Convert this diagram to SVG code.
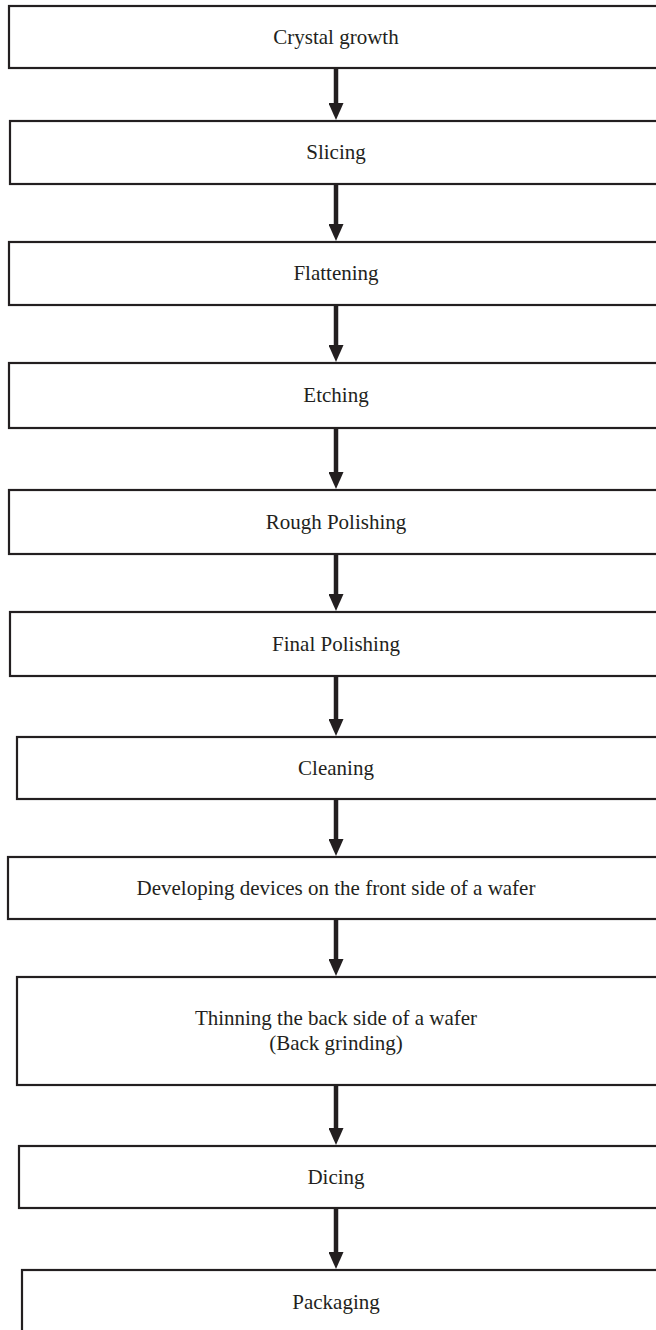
<svg xmlns="http://www.w3.org/2000/svg" width="656" height="1330" viewBox="0 0 656 1330">
<style>
.box{fill:#fff;stroke:#231f20;stroke-width:2.2}
.lbl{font-family:"Liberation Serif","Times New Roman",serif;font-size:21px;fill:#231f20;text-anchor:middle}
.arr{stroke:#231f20;stroke-width:4.5;fill:none}
</style>
<defs>
<marker id="ah" markerUnits="userSpaceOnUse" viewBox="0 0 17 15" refX="1" refY="7.5" markerWidth="17" markerHeight="15" orient="auto">
<path d="M0,0 L17,7.5 L0,15 z" fill="#231f20"/>
</marker>
</defs>
<rect width="656" height="1330" fill="#fff"/>
<g id="connectors">
<line class="arr" x1="336" y1="69" x2="336" y2="104" marker-end="url(#ah)"/>
<line class="arr" x1="336" y1="185" x2="336" y2="225" marker-end="url(#ah)"/>
<line class="arr" x1="336" y1="306" x2="336" y2="346" marker-end="url(#ah)"/>
<line class="arr" x1="336" y1="429" x2="336" y2="473" marker-end="url(#ah)"/>
<line class="arr" x1="336" y1="555" x2="336" y2="595" marker-end="url(#ah)"/>
<line class="arr" x1="336" y1="677" x2="336" y2="720" marker-end="url(#ah)"/>
<line class="arr" x1="336" y1="800" x2="336" y2="840" marker-end="url(#ah)"/>
<line class="arr" x1="336" y1="920" x2="336" y2="960" marker-end="url(#ah)"/>
<line class="arr" x1="336" y1="1086" x2="336" y2="1129" marker-end="url(#ah)"/>
<line class="arr" x1="336" y1="1209" x2="336" y2="1253" marker-end="url(#ah)"/>
</g>
<g id="n1"><rect class="box" x="9" y="6" width="680" height="62"/><text class="lbl" x="336" y="44">Crystal growth</text></g>
<g id="n2"><rect class="box" x="10" y="121" width="680" height="63"/><text class="lbl" x="336" y="159">Slicing</text></g>
<g id="n3"><rect class="box" x="9" y="242" width="680" height="63"/><text class="lbl" x="336" y="280">Flattening</text></g>
<g id="n4"><rect class="box" x="9" y="363" width="680" height="65"/><text class="lbl" x="336" y="402">Etching</text></g>
<g id="n5"><rect class="box" x="9" y="490" width="680" height="64"/><text class="lbl" x="336" y="529">Rough Polishing</text></g>
<g id="n6"><rect class="box" x="10" y="612" width="680" height="64"/><text class="lbl" x="336" y="651">Final Polishing</text></g>
<g id="n7"><rect class="box" x="17" y="737" width="680" height="62"/><text class="lbl" x="336" y="775">Cleaning</text></g>
<g id="n8"><rect class="box" x="8" y="857" width="680" height="62"/><text class="lbl" x="336" y="895">Developing devices on the front side of a wafer</text></g>
<g id="n9"><rect class="box" x="17" y="977" width="680" height="108"/><text class="lbl" x="336" y="1025">Thinning the back side of a wafer</text><text class="lbl" x="336" y="1050">(Back grinding)</text></g>
<g id="n10"><rect class="box" x="19" y="1146" width="680" height="62"/><text class="lbl" x="336" y="1184">Dicing</text></g>
<g id="n11"><rect class="box" x="22" y="1270" width="680" height="64"/><text class="lbl" x="336" y="1309">Packaging</text></g>
</svg>
